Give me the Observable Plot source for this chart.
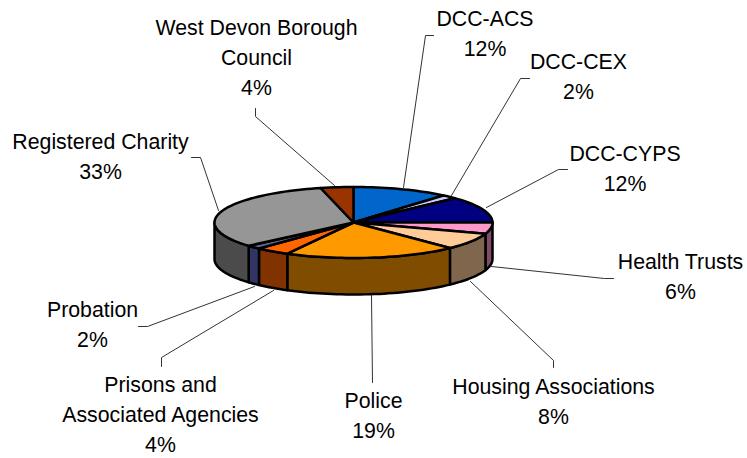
<!DOCTYPE html>
<html>
<head>
<meta charset="utf-8">
<style>html,body{margin:0;padding:0;background:#fff}svg{display:block}</style>
<script src="https://cdn.jsdelivr.net/npm/d3@7"></script>
<script src="https://cdn.jsdelivr.net/npm/@observablehq/plot@0.6"></script>
</head>
<body>
<script>
// Data
const categories = ["DCC-ACS","DCC-CEX","DCC-CYPS","Health Trusts","Housing Associations","Police","Prisons and\nAssociated Agencies","Probation","Registered Charity","West Devon Borough\nCouncil"];
const shares = [11.2,1.8,12,5.1,7.7,20.1,4,1.7,32.6,3.8];
const percentLabels = ["12%","2%","12%","6%","8%","19%","4%","2%","33%","4%"];
const topColors = ["#0066cc","#ccccff","#000080","#ff99cc","#ffcc99","#ff9900","#ff6600","#666699","#969696","#993300"];
const sideColors = ["#003366","#666680","#000040","#804c66","#80664c","#804d00","#803300","#333366","#4b4b4b","#4d1900"];
// Layout (chart-space)
const pie = {cx:353, cy:222, rx:139, ry:35.5, depth:36.5};
const labelX = [484.5,578,624.5,680,553,373,160,92,100,256];
const labelFirstLine = [18,61,153,261,386,400,384,309,141,27];
const leaders = [
  [[433,35],[425,35],[403,187]],
  [[529,78],[520,78],[451,195]],
  [[567,169],[558,169],[486,207]],
  [[613,278],[604,278],[491,266]],
  [[553,367],[553,360],[470,281]],
  [[372,382],[371,295]],
  [[161,366],[161,357],[273,290]],
  [[138,326],[147,326],[254,286]],
  [[191,157],[200,157],[218,210]],
  [[255,108],[255,116],[334,185]]
];

const total = d3.sum(shares);
const cum = d3.cumsum(shares);
const slices = shares.map((s,i)=>({i,start:((cum[i]-s)/total)*360,end:(cum[i]/total)*360}));
const px = a => pie.cx + pie.rx*Math.sin(a*Math.PI/180);
const py = (a,dz=0) => pie.cy - pie.ry*Math.cos(a*Math.PI/180) + dz;
const arc = (a0,a1) => { const n=Math.max(2,Math.ceil((a1-a0)/2)); return d3.range(n+1).map(k=>a0+(a1-a0)*k/n); };

const walls = [];
slices.forEach(s=>{
  const a0=Math.max(s.start,90), a1=Math.min(s.end,270);
  if(a1<=a0) return;
  const top=arc(a0,a1);
  const ring=[...top.map(a=>[px(a),py(a)]),...top.slice().reverse().map(a=>[px(a),py(a,pie.depth)])];
  ring.push(ring[0]);
  ring.forEach(p=>walls.push({id:s.i,x:p[0],y:p[1],color:sideColors[s.i]}));
});
const faces = [];
slices.forEach(s=>{
  const ring=[[pie.cx,pie.cy],...arc(s.start,s.end).map(a=>[px(a),py(a)]),[pie.cx,pie.cy]];
  ring.forEach(p=>faces.push({id:s.i,x:p[0],y:p[1],color:topColors[s.i]}));
});
const leaderPts = leaders.flatMap((l,i)=>l.map(p=>({id:i,x:p[0],y:p[1]})));
const labels = categories.map((c,i)=>({text:c+"\n"+percentLabels[i],x:labelX[i],y:labelFirstLine[i]-13.7}));

const chart = Plot.plot({
  width:747,height:458,margin:0,
  x:{domain:[0,747],range:[0,747],axis:null},
  y:{domain:[0,458],range:[0,458],axis:null},
  style:{background:"#fff"},
  marks:[
    Plot.line(leaderPts,{x:"x",y:"y",z:"id",stroke:"#333",strokeWidth:1,curve:"linear"}),
    Plot.line(walls,{x:"x",y:"y",z:"id",fill:"color",stroke:"#000",strokeWidth:2.5,curve:"linear",strokeLinejoin:"round"}),
    Plot.line(faces,{x:"x",y:"y",z:"id",fill:"color",stroke:"#000",strokeWidth:2.5,curve:"linear",strokeLinejoin:"round"}),
    Plot.text(labels,{x:"x",y:"y",text:"text",fontSize:21.3,lineHeight:1.41,lineAnchor:"top",textAnchor:"middle",fill:"#000",fontFamily:"'Liberation Sans',Arial,sans-serif"})
  ]
});
document.body.appendChild(chart);
</script>
</body>
</html>
